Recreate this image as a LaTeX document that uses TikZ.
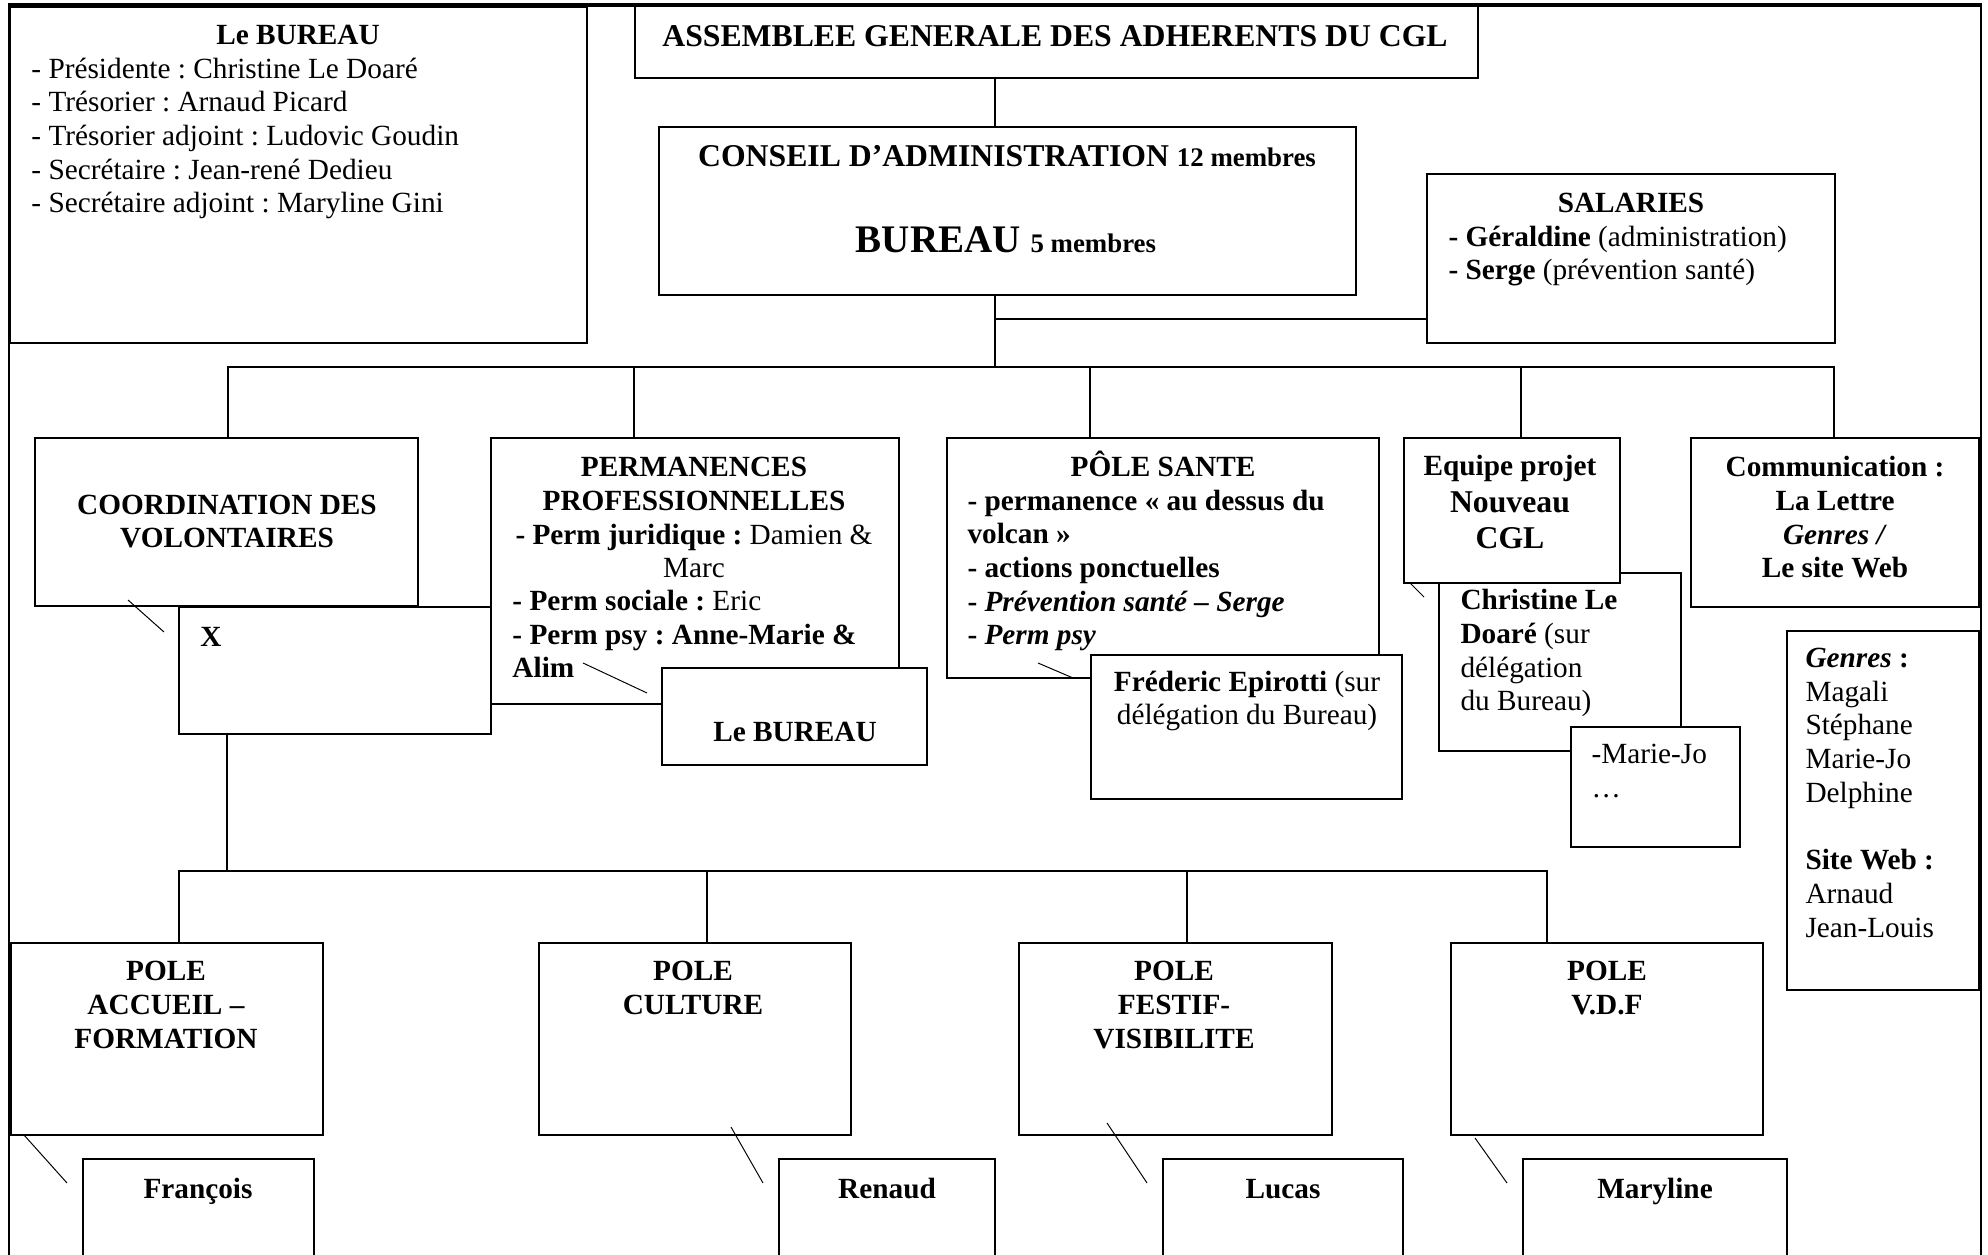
\documentclass[tikz,border=0pt]{standalone}
\usepackage{fontspec}
\setmainfont{Liberation Serif}
\usetikzlibrary{fit}
\frenchspacing

\begin{document}
\begin{tikzpicture}[x=0.4098pt, y=-0.4098pt,
    box/.style={draw, fill=white, line width=0.7pt, inner sep=0pt},
    txt/.style={inner sep=0pt, font=\fontsize{12}{13.8}\selectfont},
    bld/.style={inner sep=0pt, font=\fontsize{12}{13.8}\selectfont\bfseries},
    link/.style={line width=0.45pt},
    tick/.style={line width=0.4pt}]
    \useasboundingbox (0,0) rectangle (1988,1255);
    \clip (0,0) rectangle (1988,1255);

    % joints of the tree
    \coordinate (top) at (995,367);
    \coordinate (salJ) at (995,319);
    \coordinate (low) at (227,871);

    % connectors
    \draw[link] (top |- 0,78) -- (top |- 0,127);
    \draw[link] (top |- 0,295) -- (top);
    \draw[link] (salJ) -- (1427,0 |- salJ);
    \draw[link] (228,438) |- (top) -| (1834,438);
    \foreach \x in {634, 1090, 1521}
        \draw[link] (\x,0 |- top) -- (\x,438);
    \draw[link] (low |- 0,734) -- (low);
    \draw[link] (179,943) |- (low) -| (1547,943);
    \foreach \x in {707, 1187}
        \draw[link] (\x,0 |- low) -- (\x,943);

    % boxes
    \node[box, fit={(10,7) (587,343)}] (bureauL) {};
    \node[box, fit={(635,6) (1478,78)}] (ag) {};
    \node[box, fit={(659,127) (1356,295)}] (ca) {};
    \node[box, fit={(1427,174) (1835,343)}] (sal) {};
    \node[box, fit={(35,438) (418,606)}] (coord) {};
    \node[box, fit={(179,607) (491,734)}] (volX) {};
    \node[box, fit={(491,438) (899,704)}] (perm) {};
    \node[box, fit={(662,668) (927,765)}] (permB) {};
    \node[box, fit={(947,438) (1379,678)}] (sante) {};
    \node[box, fit={(1091,655) (1402,799)}] (fred) {};
    \node[box, fit={(1439,573) (1681,751)}] (chris) {};
    \node[box, fit={(1571,727) (1740,847)}] (mjo) {};
    \node[box, fit={(1404,438) (1620,583)}] (equipe) {};
    \node[box, fit={(1691,438) (1979,607)}] (comm) {};
    \node[box, fit={(1787,631) (1979,990)}] (genres) {};
    \node[box, fit={(11,943) (323,1135)}] (accueil) {};
    \node[box, fit={(539,943) (851,1135)}] (culture) {};
    \node[box, fit={(1019,943) (1332,1135)}] (festif) {};
    \node[box, fit={(1451,943) (1763,1135)}] (vdf) {};
    \node[box, fit={(83,1159) (314,1280)}] (francois) {};
    \node[box, fit={(779,1159) (995,1280)}] (renaud) {};
    \node[box, fit={(1163,1159) (1403,1280)}] (lucas) {};
    \node[box, fit={(1523,1159) (1787,1280)}] (maryline) {};

    % texts (multi-line nodes sit on the base line of their last line)
    \node[bld, anchor=base] (bureauLT) at (298,45) {Le BUREAU};
    \node[txt, anchor=base west, align=left] (bureauLL) at (31,213)
        {- Présidente : Christine Le Doaré\\- Trésorier : Arnaud Picard\\- Trésorier adjoint : Ludovic Goudin\\- Secrétaire : Jean-rené Dedieu\\- Secrétaire adjoint : Maryline Gini};
    \node[bld, font=\fontsize{13}{15}\selectfont\bfseries, anchor=base] (agT) at (1055,47)
        {ASSEMBLEE GENERALE DES ADHERENTS DU CGL};
    \node[bld, anchor=base] (caT) at (1007,167)
        {\fontsize{13}{15}\selectfont CONSEIL D’ADMINISTRATION \fontsize{11}{13}\selectfont 12 membres};
    \node[bld, anchor=base] (caB) at (1006,253)
        {\fontsize{16}{18}\selectfont BUREAU \fontsize{11}{13}\selectfont 5 membres};
    \node[bld, anchor=base] (salT) at (1631,213) {SALARIES};
    \node[txt, anchor=base west, align=left] (salL) at (1448,280)
        {\textbf{- Géraldine} (administration)\\\textbf{- Serge} (prévention santé)};
    \node[bld, anchor=base, align=center] (coordT) at (227,548) {COORDINATION DES\\VOLONTAIRES};
    \node[bld, anchor=base west] (volXT) at (200,647) {X};
    \node[txt, anchor=base, align=center] (permT) at (694,578)
        {\textbf{PERMANENCES}\\\textbf{PROFESSIONNELLES}\\\textbf{- Perm juridique :} Damien \&\\Marc};
    \node[txt, anchor=base west, align=left] (permL) at (512,678)
        {\textbf{- Perm sociale :} Eric\\\textbf{- Perm psy : Anne-Marie \&}\\\textbf{Alim}};
    \node[bld, anchor=base] (permBT) at (795,742) {Le BUREAU};
    \node[bld, anchor=base] (santeT) at (1163,477) {PÔLE SANTE};
    \node[bld, anchor=base west, align=left] (santeL) at (967,645)
        {- permanence « au dessus du\\volcan »\\- actions ponctuelles\\- \textit{Prévention santé – Serge}\\- \textit{Perm psy}};
    \node[txt, anchor=base, align=center] (fredT) at (1247,725)
        {\textbf{Fréderic Epirotti} (sur\\délégation du Bureau)};
    \node[bld, anchor=base, align=center] (equipeT) at (1510,549)
        {Equipe projet\\[1.2pt]\fontsize{13}{15}\selectfont Nouveau\\[1.2pt]\fontsize{13}{15}\selectfont CGL};
    \node[txt, anchor=base west, align=left] (chrisT) at (1460,711)
        {\textbf{Christine Le}\\\textbf{Doaré} (sur\\délégation\\du Bureau)};
    \node[txt, anchor=base west, align=left] (mjoT) at (1591,797) {-Marie-Jo\\…};
    \node[bld, anchor=base, align=center] (commT) at (1835,578)
        {Communication :\\La Lettre\\\textit{Genres /}\\Le site Web};
    \node[txt, anchor=base west, align=left] (genresT) at (1805,937)
        {\textbf{\textit{Genres} :}\\Magali\\Stéphane\\Marie-Jo\\Delphine\\[13.8pt]\textbf{Site Web :}\\Arnaud\\Jean-Louis};
    \node[bld, anchor=base, align=center] (accueilT) at (166,1048) {POLE\\ACCUEIL –\\FORMATION};
    \node[bld, anchor=base, align=center] (cultureT) at (693,1014) {POLE\\CULTURE};
    \node[bld, anchor=base, align=center] (festifT) at (1174,1048) {POLE\\FESTIF-\\VISIBILITE};
    \node[bld, anchor=base, align=center] (vdfT) at (1607,1014) {POLE\\V.D.F};
    \node[bld, anchor=base] (francoisT) at (198,1198) {François};
    \node[bld, anchor=base] (renaudT) at (887,1198) {Renaud};
    \node[bld, anchor=base] (lucasT) at (1283,1198) {Lucas};
    \node[bld, anchor=base] (marylineT) at (1655,1198) {Maryline};

    % small strokes between boxes
    \draw[tick] (128,600) -- (164,632);
    \draw[tick] (583,663) -- (647,693);
    \draw[tick] (1038,663) -- (1073,678);
    \draw[tick] (1410,583) -- (1424,597);
    \draw[tick] (24,1135) -- (67,1183);
    \draw[tick] (731,1127) -- (763,1183);
    \draw[tick] (1107,1123) -- (1147,1183);
    \draw[tick] (1475,1138) -- (1507,1183);

    % frame
    \draw[line width=0.8pt] (9,1280) -- (9,5) -- (1981,5) -- (1981,1280);
    \draw[line width=1.4pt] (8,5) -- (1982,5);
\end{tikzpicture}
\end{document}
